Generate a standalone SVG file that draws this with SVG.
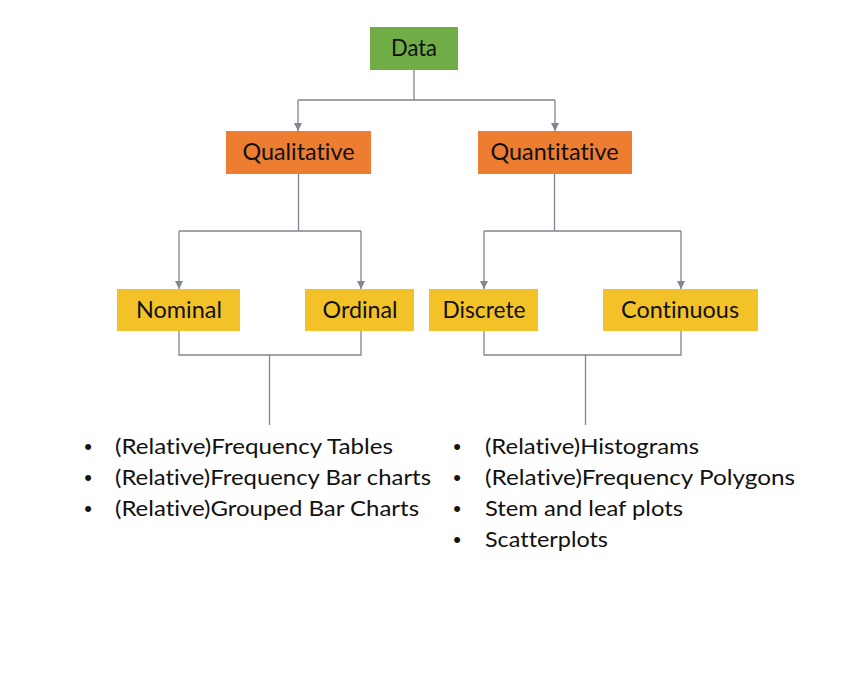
<svg xmlns="http://www.w3.org/2000/svg" width="841" height="677" viewBox="0 0 841 677">
<defs>
<style>
.box-text{font-family:Lato,"Open Sans","Liberation Sans",sans-serif;font-size:23px;fill:#111111;text-anchor:middle;font-variant-ligatures:none}
.list{font-family:Lato,"Open Sans","Liberation Sans",sans-serif;font-size:22px;fill:#111111;font-variant-ligatures:none}
.bullet{font-family:"Liberation Sans",Arial,sans-serif;font-size:22px;fill:#111111;text-anchor:middle}
.conn{fill:none;stroke:#7f8591;stroke-width:1.3}
.green{fill:#70ad47}
.orange{fill:#ed7d31}
.yellow{fill:#f3c228}
</style>
<marker id="arrow" markerUnits="userSpaceOnUse" markerWidth="8" markerHeight="9" refX="8" refY="4" orient="auto">
<path d="M0,0 L8,4 L0,8 z" fill="#7f8591"/>
</marker>
</defs>
<rect width="841" height="677" fill="#ffffff"/>
<g id="connectors">
<path class="conn" d="M414,70 V100"/>
<path class="conn" d="M298,100 H555"/>
<path class="conn" d="M298,100 V131" marker-end="url(#arrow)"/>
<path class="conn" d="M555,100 V131" marker-end="url(#arrow)"/>
<path class="conn" d="M298.5,174 V231"/>
<path class="conn" d="M179,231 H361"/>
<path class="conn" d="M179,231 V289" marker-end="url(#arrow)"/>
<path class="conn" d="M361,231 V289" marker-end="url(#arrow)"/>
<path class="conn" d="M554.5,174 V231"/>
<path class="conn" d="M484,231 H681"/>
<path class="conn" d="M484,231 V289" marker-end="url(#arrow)"/>
<path class="conn" d="M681,231 V289" marker-end="url(#arrow)"/>
<path class="conn" d="M179,331 V355 H361 V331"/>
<path class="conn" d="M269.5,355 V425"/>
<path class="conn" d="M484,331 V355 H681 V331"/>
<path class="conn" d="M585.5,355 V425"/>
</g>
<g id="node-data">
<rect class="green" x="370" y="27" width="88" height="43"/>
<text class="box-text" x="414" y="56" textLength="46" lengthAdjust="spacingAndGlyphs">Data</text>
</g>
<g id="node-qualitative">
<rect class="orange" x="226" y="131" width="145" height="43"/>
<text class="box-text" x="298.5" y="160" textLength="112" lengthAdjust="spacingAndGlyphs">Qualitative</text>
</g>
<g id="node-quantitative">
<rect class="orange" x="478" y="131" width="154" height="43"/>
<text class="box-text" x="554.5" y="160" textLength="128" lengthAdjust="spacingAndGlyphs">Quantitative</text>
</g>
<g id="node-nominal">
<rect class="yellow" x="117" y="289" width="123" height="42"/>
<text class="box-text" x="179" y="318" textLength="86" lengthAdjust="spacingAndGlyphs">Nominal</text>
</g>
<g id="node-ordinal">
<rect class="yellow" x="305" y="289" width="109" height="42"/>
<text class="box-text" x="360" y="318" textLength="75" lengthAdjust="spacingAndGlyphs">Ordinal</text>
</g>
<g id="node-discrete">
<rect class="yellow" x="429" y="289" width="109" height="42"/>
<text class="box-text" x="484" y="318" textLength="83" lengthAdjust="spacingAndGlyphs">Discrete</text>
</g>
<g id="node-continuous">
<rect class="yellow" x="603" y="289" width="155" height="42"/>
<text class="box-text" x="680" y="318" textLength="118" lengthAdjust="spacingAndGlyphs">Continuous</text>
</g>
<g id="list-qualitative">
<text class="bullet" x="88" y="454">•</text>
<text class="list" x="115" y="454" textLength="278" lengthAdjust="spacingAndGlyphs">(Relative)Frequency Tables</text>
<text class="bullet" x="88" y="485">•</text>
<text class="list" x="115" y="485" textLength="316" lengthAdjust="spacingAndGlyphs">(Relative)Frequency Bar charts</text>
<text class="bullet" x="88" y="516">•</text>
<text class="list" x="115" y="516" textLength="304" lengthAdjust="spacingAndGlyphs">(Relative)Grouped Bar Charts</text>
</g>
<g id="list-quantitative">
<text class="bullet" x="457" y="454">•</text>
<text class="list" x="485" y="454" textLength="214" lengthAdjust="spacingAndGlyphs">(Relative)Histograms</text>
<text class="bullet" x="457" y="485">•</text>
<text class="list" x="485" y="485" textLength="310" lengthAdjust="spacingAndGlyphs">(Relative)Frequency Polygons</text>
<text class="bullet" x="457" y="516">•</text>
<text class="list" x="485" y="516" textLength="198" lengthAdjust="spacingAndGlyphs">Stem and leaf plots</text>
<text class="bullet" x="457" y="547">•</text>
<text class="list" x="485" y="547" textLength="123" lengthAdjust="spacingAndGlyphs">Scatterplots</text>
</g>
</svg>
